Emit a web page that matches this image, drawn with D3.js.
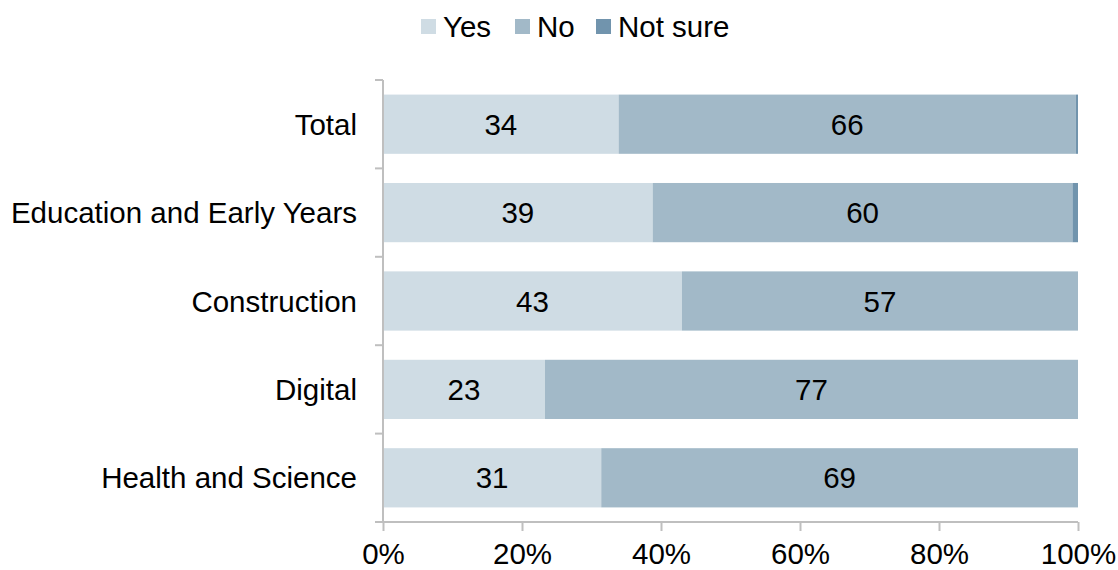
<!DOCTYPE html>
<html>
<head>
<meta charset="utf-8">
<script src="https://cdn.jsdelivr.net/npm/d3@7"></script>
<style>
  html, body { margin: 0; padding: 0; background: #ffffff; }
  svg { display: block; font-family: "Liberation Sans", Arial, sans-serif; }
</style>
</head>
<body>
<svg id="chart" width="1118" height="570"></svg>
<script>
// Survey responses by route (percent of respondents)
const categories = ["Total", "Education and Early Years", "Construction", "Digital", "Health and Science"];
const seriesNames = ["Yes", "No", "Not sure"];
const yesValues = [33.9, 38.8, 43.0, 23.3, 31.4];
const noValues = [65.8, 60.4, 57.0, 76.7, 68.6];
const notSureValues = [0.3, 0.8, 0, 0, 0];
const tickValues = [0, 20, 40, 60, 80, 100];
const colors = ["#cfdce4", "#a2b9c8", "#7194ad"];

const fontSize = 29.5;

const rows = categories.map((c, i) => ({
  category: c,
  "Yes": yesValues[i],
  "No": noValues[i],
  "Not sure": notSureValues[i]
}));

const svg = d3.select("#chart");
const margin = { left: 383, right: 40, top: 80, bottom: 48 };
const width = 1118, height = 570;

const x = d3.scaleLinear().domain([0, 100]).range([margin.left, width - margin.right]);
const y = d3.scaleBand().domain(categories)
  .range([margin.top, height - margin.bottom])
  .paddingInner(0.33).paddingOuter(0.165);
const color = d3.scaleOrdinal().domain(seriesNames).range(colors);

const stacked = d3.stack().keys(seriesNames)(rows);

// Stacked bars
const layers = svg.append("g").selectAll("g")
  .data(stacked).join("g")
  .attr("fill", d => color(d.key));

layers.selectAll("rect")
  .data(d => d.map(v => ({ v, key: d.key })))
  .join("rect")
  .attr("x", d => x(d.v[0]))
  .attr("y", d => y(d.v.data.category))
  .attr("width", d => Math.max(0, x(d.v[1]) - x(d.v[0])))
  .attr("height", y.bandwidth());

// Value labels on Yes and No segments
svg.append("g").selectAll("text")
  .data(stacked.filter(s => s.key !== "Not sure").flatMap(s => s.map(v => ({ v, key: s.key }))))
  .join("text")
  .attr("x", d => (x(d.v[0]) + x(d.v[1])) / 2)
  .attr("y", d => y(d.v.data.category) + y.bandwidth() / 2)
  .attr("text-anchor", "middle")
  .attr("dominant-baseline", "central")
  .attr("font-size", fontSize)
  .attr("fill", "#000")
  .text(d => d3.format(".0f")(d.v[1] - d.v[0]));

// Category axis
const step = y.step();
const yAxisG = svg.append("g");
yAxisG.append("line")
  .attr("x1", margin.left).attr("x2", margin.left)
  .attr("y1", margin.top).attr("y2", height - margin.bottom)
  .attr("stroke", "#bfbfbf").attr("stroke-width", 2);
const boundaries = d3.range(categories.length + 1).map(i => margin.top + i * step);
yAxisG.selectAll("line.tick")
  .data(boundaries).join("line").attr("class", "tick")
  .attr("x1", margin.left - 8).attr("x2", margin.left)
  .attr("y1", d => d).attr("y2", d => d)
  .attr("stroke", "#bfbfbf").attr("stroke-width", 2);
yAxisG.selectAll("text")
  .data(categories).join("text")
  .attr("x", margin.left - 26)
  .attr("y", d => y(d) + y.bandwidth() / 2)
  .attr("text-anchor", "end")
  .attr("dominant-baseline", "central")
  .attr("font-size", fontSize)
  .attr("fill", "#000")
  .text(d => d);

// Percentage axis
const xAxis = d3.axisBottom(x)
  .tickValues(tickValues)
  .tickFormat(d => d + "%")
  .tickSize(9)
  .tickPadding(12);
const xAxisG = svg.append("g")
  .attr("transform", `translate(0,${height - margin.bottom})`)
  .call(xAxis);
xAxisG.select(".domain").attr("stroke", "#bfbfbf").attr("stroke-width", 2)
  .attr("d", `M${margin.left - 8},0H${width - margin.right}`);
xAxisG.selectAll(".tick line").attr("stroke", "#bfbfbf").attr("stroke-width", 2);
xAxisG.selectAll(".tick text")
  .attr("font-size", fontSize)
  .attr("font-family", "Liberation Sans, Arial, sans-serif")
  .attr("fill", "#000");

// Legend
const legendItems = [
  { key: "Yes", x: 421 },
  { key: "No", x: 515 },
  { key: "Not sure", x: 596 }
];
const legend = svg.append("g");
legend.selectAll("rect")
  .data(legendItems).join("rect")
  .attr("x", d => d.x).attr("y", 19)
  .attr("width", 15).attr("height", 15)
  .attr("fill", d => color(d.key));
legend.selectAll("text")
  .data(legendItems).join("text")
  .attr("x", d => d.x + 22)
  .attr("y", 26)
  .attr("dominant-baseline", "central")
  .attr("font-size", fontSize)
  .attr("fill", "#000")
  .text(d => d.key);
</script>
</body>
</html>
